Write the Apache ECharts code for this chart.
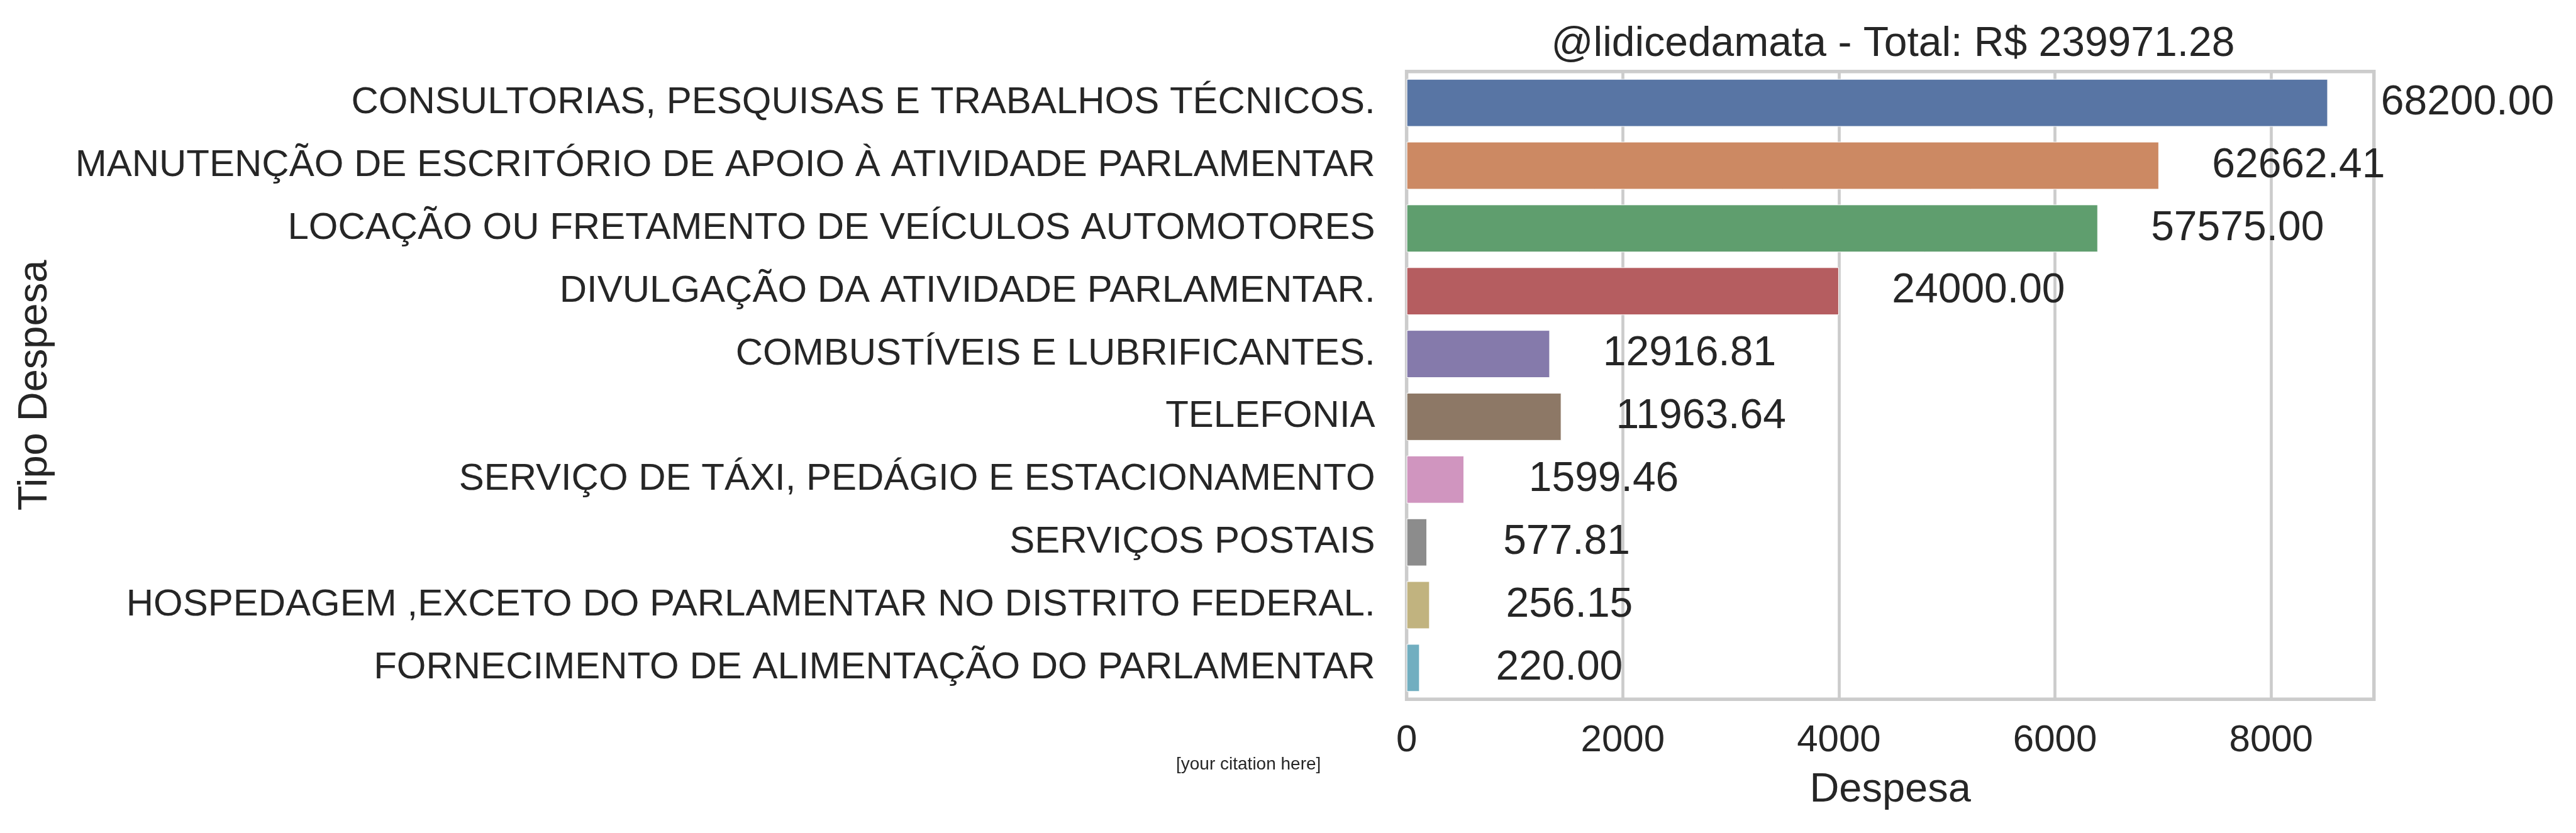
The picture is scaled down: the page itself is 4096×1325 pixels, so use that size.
<!DOCTYPE html>
<html>
<head>
<meta charset="utf-8">
<script src="https://cdn.jsdelivr.net/npm/echarts@6/dist/echarts.min.js"></script>
<style>
html,body{margin:0;padding:0;background:#ffffff;}
#chart{width:4096px;height:1325px;}
</style>
</head>
<body>
<div id="chart"></div>
<script>
const categories = [
  'CONSULTORIAS, PESQUISAS E TRABALHOS TÉCNICOS.',
  'MANUTENÇÃO DE ESCRITÓRIO DE APOIO À ATIVIDADE PARLAMENTAR',
  'LOCAÇÃO OU FRETAMENTO DE VEÍCULOS AUTOMOTORES',
  'DIVULGAÇÃO DA ATIVIDADE PARLAMENTAR.',
  'COMBUSTÍVEIS E LUBRIFICANTES.',
  'TELEFONIA',
  'SERVIÇO DE TÁXI, PEDÁGIO E ESTACIONAMENTO',
  'SERVIÇOS POSTAIS',
  'HOSPEDAGEM ,EXCETO DO PARLAMENTAR NO DISTRITO FEDERAL.',
  'FORNECIMENTO DE ALIMENTAÇÃO DO PARLAMENTAR'
];
// bar lengths (as drawn)
const barValues = [8525, 6962, 6397, 4000, 1326, 1432, 532, 189, 214, 121];
// value labels (totals)
const totals = [68200.00, 62662.41, 57575.00, 24000.00, 12916.81, 11963.64, 1599.46, 577.81, 256.15, 220.00];
const barColors = ['#5875a4', '#cc8963', '#5f9e6e', '#b55d60', '#857aab', '#8d7866', '#d095bf', '#8c8c8c', '#c1b37f', '#71aec0'];
const xTickInterval = 2000;
const titleHandle = '@lidicedamata';
const xTitle = 'Despesa';
const yTitle = 'Tipo Despesa';
const citation = '[your citation here]';

const FONT = "'Liberation Sans', Arial, sans-serif";
const TXT = '#262626';
const total = totals.reduce((a, b) => a + b, 0);
const xMax = Math.max(...barValues) * 1.05;

const chart = echarts.init(document.getElementById('chart'), null, {renderer: 'canvas'});
chart.setOption({
  backgroundColor: '#ffffff',
  animation: false,
  textStyle: {fontFamily: FONT},
  title: {
    text: titleHandle + ' - Total: R$ ' + total.toFixed(2),
    left: 3005, top: 33, textAlign: 'center',
    textStyle: {fontFamily: FONT, fontSize: 66, fontWeight: 'normal', color: TXT}
  },
  grid: {
    left: 2236.6, right: 321.3, top: 113.7, bottom: 212.7,
    show: true, borderColor: '#cccccc', borderWidth: 5.5, backgroundColor: 'transparent'
  },
  xAxis: {
    type: 'value', min: 0, max: xMax, interval: xTickInterval,
    name: xTitle, nameLocation: 'middle', nameGap: 112,
    nameTextStyle: {fontFamily: FONT, fontSize: 65, color: TXT},
    axisLine: {show: false}, axisTick: {show: false},
    axisLabel: {fontFamily: FONT, fontSize: 60, color: TXT, margin: 36, showMaxLabel: false,
      formatter: v => String(Math.round(v))},
    splitLine: {show: true, lineStyle: {color: '#cccccc', width: 4.7}}
  },
  yAxis: {
    type: 'category', data: categories, inverse: true,
    name: yTitle, nameLocation: 'middle', nameGap: 2148, nameRotate: 90,
    nameTextStyle: {fontFamily: FONT, fontSize: 65, color: TXT},
    axisLine: {show: false}, axisTick: {show: false},
    axisLabel: {fontFamily: FONT, fontSize: 60, color: TXT, margin: 50},
    splitLine: {show: false}
  },
  series: [{
    type: 'bar',
    barWidth: '76%',
    data: barValues.map((v, i) => ({value: v, itemStyle: {color: barColors[i]}})),
    itemStyle: {borderColor: '#ffffff', borderWidth: 1},
    label: {
      show: true, position: 'right', distance: 222, align: 'center',
      fontFamily: FONT, fontSize: 66, color: TXT,
      formatter: p => totals[p.dataIndex].toFixed(2)
    }
  }],
  graphic: [{
    type: 'text', left: 1870, top: 1202,
    style: {text: citation, fontFamily: FONT, fontSize: 28, fill: TXT}
  }]
});
</script>
</body>
</html>
